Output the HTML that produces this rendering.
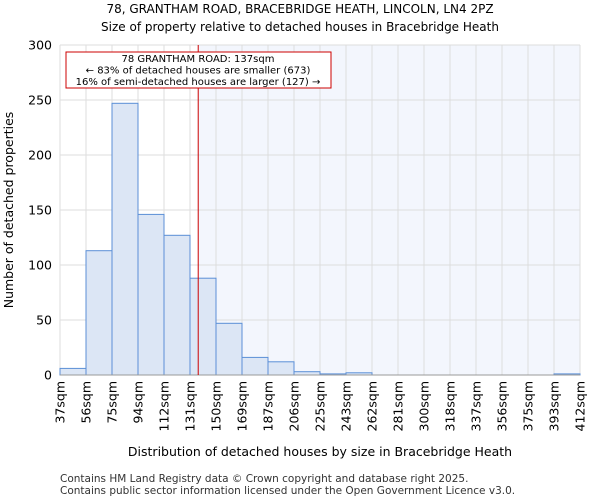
<!DOCTYPE html>
<html><head><meta charset="utf-8"><style>
body{margin:0;background:#fff;font-family:"DejaVu Sans","Liberation Sans",sans-serif}
</style></head><body>
<svg id="c" width="600" height="500" xmlns="http://www.w3.org/2000/svg" font-family="DejaVu Sans, Liberation Sans, sans-serif">
<text x="300" y="13" font-size="12" text-anchor="middle">78, GRANTHAM ROAD, BRACEBRIDGE HEATH, LINCOLN, LN4 2PZ</text>
<text x="300" y="31" font-size="12" text-anchor="middle">Size of property relative to detached houses in Bracebridge Heath</text>
<g id="plot"></g>
<text x="320" y="456" font-size="12.5" text-anchor="middle">Distribution of detached houses by size in Bracebridge Heath</text>
<text transform="translate(13,210) rotate(-90)" font-size="12.5" text-anchor="middle">Number of detached properties</text>
<text x="60" y="482" font-size="10.5" fill="#333">Contains HM Land Registry data © Crown copyright and database right 2025.</text>
<text x="60" y="494" font-size="10.5" fill="#333">Contains public sector information licensed under the Open Government Licence v3.0.</text>
</svg>
<script>
const binLabels=["37sqm","56sqm","75sqm","94sqm","112sqm","131sqm","150sqm","169sqm","187sqm","206sqm","225sqm","243sqm","262sqm","281sqm","300sqm","318sqm","337sqm","356sqm","375sqm","393sqm","412sqm"];
const binEdges=[37,56,75,94,112,131,150,169,187,206,225,243,262,281,300,318,337,356,375,393,412];
const counts=[6,113,247,146,127,88,47,16,12,3,1,2,0,0,0,0,0,0,0,1];
const yTicks=[0,50,100,150,200,250,300];
const propertySize=137;
const NS="http://www.w3.org/2000/svg";
const L=60,R=580,T=45,B=375,yMax=300;
const n=counts.length,bw=(R-L)/n;
const xi=i=>L+i*bw;
function xv(v){for(let i=0;i<binEdges.length-1;i++){if(v<=binEdges[i+1])return xi(i)+(v-binEdges[i])/(binEdges[i+1]-binEdges[i])*bw;}return R;}
const y=v=>B-(v/yMax)*(B-T);
const g=document.getElementById('plot');
function mk(t,a,p){const e=document.createElementNS(NS,t);for(const k in a)e.setAttribute(k,a[k]);(p||g).appendChild(e);return e;}
const px=xv(propertySize);
const bg=mk('rect',{x:px,y:T,width:R-px,height:B-T,fill:'#f3f6fd'});


yTicks.forEach(t=>{
const l=mk('line',{x1:L,x2:R,y1:y(t),y2:y(t),stroke:'#ddd'});


const tx=mk('text',{x:L-8,y:y(t)+4.5,'font-size':12.5,'text-anchor':'end'});tx.textContent=t;


});
binLabels.forEach((s,i)=>{
const l=mk('line',{x1:xi(i),x2:xi(i),y1:T,y2:B,stroke:'#ddd'});


const tx=mk('text',{transform:`translate(${xi(i)+4.5},${B+6}) rotate(-90)`,'font-size':12.5,'text-anchor':'end'});tx.textContent=s;


});
counts.forEach((c,i)=>{
if(c<=0)return;
const r=mk('rect',{x:xi(i),y:y(c),width:bw,height:B-y(c),fill:'#dce6f5',stroke:'#5b8fd6','stroke-width':1});


});
const ax=mk('line',{x1:L,x2:R,y1:B,y2:B,stroke:'#999'});


const ml=mk('line',{x1:px,x2:px,y1:T,y2:B,stroke:'#cc0000','stroke-width':1});


const box=mk('rect',{x:66,y:52,width:265,height:36,fill:'#fff',stroke:'#cc0000','stroke-width':1});


["78 GRANTHAM ROAD: 137sqm","← 83% of detached houses are smaller (673)","16% of semi-detached houses are larger (127) →"].forEach((s,i)=>{
const t=mk('text',{x:198,y:62+i*11.5,'font-size':10,'text-anchor':'middle'});t.textContent=s;


});
</script>
</body></html>
